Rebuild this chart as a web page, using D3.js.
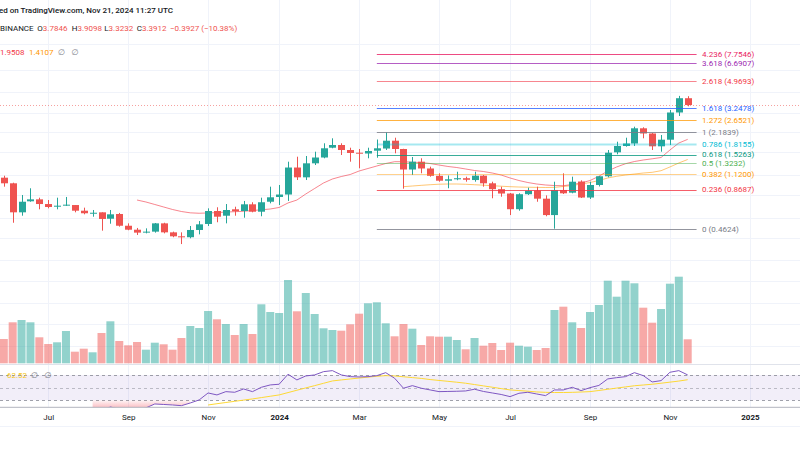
<!DOCTYPE html>
<html><head><meta charset="utf-8">
<script src="https://cdn.jsdelivr.net/npm/d3@7"></script>
<style>
body{margin:0;background:#fff}
svg{display:block}
text{font-family:Roboto,"DejaVu Sans",sans-serif}
</style>
</head><body>
<svg id="c" width="800" height="450"></svg>
<script>
// ---------- DATA (weekly candles, BINANCE) ----------
const weekStart = "2023-05-29";
const opens  = [1.052,0.961,0.602,0.719,0.742,0.688,0.659,0.674,0.677,0.618,
                0.593,0.602,0.543,0.586,0.485,0.455,0.436,0.441,0.504,0.436,
                0.409,0.403,0.453,0.499,0.615,0.570,0.632,0.615,0.685,0.608,
                0.714,0.771,0.802,1.239,1.058,1.326,1.456,1.705,1.781,1.643,
                1.573,1.553,1.625,1.683,1.909,1.670,1.200,1.361,1.220,1.084,
                1.002,1.025,1.043,1.013,1.086,0.961,0.874,0.815,0.633,0.806,
                0.856,0.750,0.576,0.863,0.826,0.989,0.764,0.935,1.076,1.583,
                1.753,1.825,2.331,2.144,1.744,1.940,3.007,3.7846];
const highs  = [1.086,0.970,0.796,0.887,0.762,0.734,0.762,0.771,0.677,0.649,
                0.625,0.602,0.625,0.596,0.504,0.468,0.465,0.507,0.509,0.441,
                0.436,0.483,0.523,0.642,0.653,0.688,0.659,0.723,0.708,0.762,
                0.910,0.935,1.361,1.475,1.492,1.599,1.831,1.984,1.831,1.705,
                1.670,1.705,1.946,2.1839,2.003,1.676,1.468,1.438,1.256,1.129,
                1.090,1.158,1.069,1.158,1.098,0.986,0.910,0.822,0.818,0.895,
                0.910,0.791,0.986,1.129,1.069,1.008,0.986,1.081,1.643,1.878,
                2.003,2.392,2.369,2.160,2.092,3.130,3.930,3.9098];
const lows   = [0.910,0.509,0.570,0.714,0.632,0.642,0.632,0.667,0.602,0.583,
                0.561,0.448,0.501,0.478,0.451,0.418,0.429,0.434,0.429,0.403,
                0.361,0.396,0.422,0.483,0.513,0.504,0.570,0.552,0.602,0.565,
                0.696,0.677,0.723,1.013,1.013,1.290,1.438,1.689,1.516,1.361,
                1.224,1.438,1.451,1.643,1.558,0.881,1.098,1.129,1.069,0.986,
                0.887,1.010,0.986,0.986,0.910,0.755,0.774,0.576,0.618,0.796,
                0.714,0.565,0.4624,0.809,0.818,0.758,0.746,0.913,1.058,1.533,
                1.733,1.753,1.984,1.643,1.599,1.781,2.842,3.3232];
const closes = [0.961,0.602,0.714,0.742,0.688,0.656,0.670,0.681,0.618,0.593,
                0.598,0.541,0.583,0.485,0.455,0.434,0.441,0.504,0.436,0.409,
                0.405,0.453,0.496,0.615,0.561,0.625,0.612,0.685,0.608,0.708,
                0.767,0.802,1.239,1.058,1.326,1.456,1.689,1.781,1.643,1.566,
                1.553,1.617,1.689,1.909,1.670,1.200,1.361,1.220,1.084,1.002,
                1.025,1.043,1.017,1.086,0.961,0.874,0.815,0.633,0.806,0.852,
                0.750,0.576,0.863,0.818,0.986,0.764,0.935,1.076,1.573,1.753,
                1.825,2.331,2.144,1.744,1.940,3.007,3.7846,3.3912];
// volume, millions
const volumes = [24.3,41,43.3,41,26,19.3,21,32.3,11.6,14.6,
                 11,30.3,42,22.3,18,21.3,13.6,20.6,19,13.6,
                 25.3,37.3,35.3,52.3,44,39.3,28.3,39.3,29.3,59,
                 51.3,50.3,83.3,52,70.3,49.3,35,33.3,32.6,39,
                 49.6,60,61,40,27,39.3,34.6,18.3,27,26.6,
                 26.6,23.3,14,25.3,17.6,20.3,13.3,20.6,17.6,16.6,
                 13.3,15.3,53.3,56.6,41,35.3,51.3,58.3,82.6,66.6,
                 82.6,80,55.6,40.6,54.3,79.6,86.6,24];
// EMA 20 (starts at candle 15)
const ema20Start = 15;
const ema20 = [0.734,0.711,0.683,0.656,0.630,0.610,0.597,0.593,0.596,0.599,
               0.605,0.608,0.612,0.620,0.627,0.635,0.651,0.700,0.734,0.809,
               0.884,0.966,1.030,1.072,1.107,1.171,1.220,1.270,1.322,1.361,
               1.361,1.348,1.344,1.322,1.290,1.260,1.239,1.210,1.181,1.162,
               1.134,1.098,1.047,1.005,0.973,0.950,0.935,0.927,0.924,0.943,
               0.966,1.005,1.076,1.171,1.250,1.318,1.365,1.399,1.426,1.456,
               1.643,1.839,1.9508];
// EMA 50 (starts at candle 45)
const ema50Start = 45;
const ema50 = [0.910,0.920,0.930,0.939,0.947,0.950,0.950,0.946,0.939,0.932,
               0.924,0.917,0.910,0.905,0.902,0.900,0.898,0.900,0.913,0.927,
               0.950,0.973,1.005,1.047,1.076,1.098,1.116,1.134,1.147,1.177,
               1.250,1.333,1.4107];
// RSI 14 (starts at candle 10)
const rsiStart = 10;
const rsi = [14,13,19.5,16,15,14,18,24.2,23.4,22.6,
             21.5,25.8,30.6,41.6,38.5,43.7,42.7,47.9,43.7,50.6,
             54.3,55.4,71.2,62.2,68.5,70.1,75.3,76.9,70.1,67.4,
             66.9,67.4,69,73.7,64.9,49.1,53.2,49.1,46.4,43.7,
             44,44.3,44.8,47.5,44,41.6,39.2,35.8,41.1,42.7,
             40,37.4,46.4,46.4,50.6,45.3,50,53.5,63.8,65.8,
             67.4,73.7,69,59,61.1,74.3,76.9,70.1];
// RSI-based MA (starts at candle 23)
const rsiMaStart = 23;
const rsiMa = [22.6,24.6,26.5,28.4,30.3,32.2,34.3,36.4,38.5,42.2,
               45.9,49.6,53.2,56.9,60.6,62.2,63.7,65.2,66.6,68,
               69,68.5,67.2,65.9,64.6,62.8,61.4,60,58.6,57,
               54.9,52.8,50.7,48.5,46.4,45.4,44.4,43.2,42.6,42.3,
               42.3,42.6,43.1,43.7,45.5,47.4,49.3,51.2,53,54.2,
               55.4,57,58.7,60.4,62.52];
const rsiMaLabel = "62.52";
// Fibonacci retracement levels
const fibStartCandle = 42, fibEndCandle = 78;
const fibLevels = ["0","0.236","0.382","0.5","0.618","0.786","1","1.272","1.618","2.618","3.618","4.236"];
const fibPrices = [0.4624,0.8687,1.1200,1.3232,1.5263,1.8155,2.1839,2.6521,3.2478,4.9693,6.6907,7.7546];
const fibColors = ["#787b86","#f23645","#ff9800","#4caf50","#089981","#00bcd4","#787b86","#ff9800","#2962ff","#f23645","#9c27b0","#e91e63"];
const fibLineOpacity = [0.8,0.8,0.45,0.5,0.8,0.35,0.8,0.75,0.8,0.6,0.75,0.8];
const fibLineWidth = [1,1,1,1,1,2,1,1,1,1,1,1];
// header texts
const headerLine1 = "ed on TradingView.com, Nov 21, 2024 11:27 UTC";
const symbolLabel = "BINANCE";
const changeLabel = "−0.3927 (−10.38%)";
// axis labels
const priceGridTicks = [0.07,0.10,0.14,0.20,0.28,0.40,0.55,0.80,1.10,1.60,2.20,3.00,4.20,6.00,9.00];
const monthTickDates = ["2023-07-03","2023-09-04","2023-11-06","2024-01-01","2024-03-04","2024-05-06","2024-07-01","2024-09-02","2024-11-04","2025-01-06"];
const monthTickLabels = ["Jul","Sep","Nov","2024","Mar","May","Jul","Sep","Nov","2025"];
const rsiLevels = [70,50,30];

// ---------- SETUP ----------
const W = 800, H = 450;
const UP = "#26a69a", DOWN = "#ef5350";
const svg = d3.select("#c");
const parse = d3.utcParse("%Y-%m-%d");
const first = parse(weekStart);
const n = opens.length;
const dates = d3.utcMonday.range(first, d3.utcMonday.offset(first, n));
const candles = dates.map((d,i)=>({d, o:opens[i], h:highs[i], l:lows[i], c:closes[i], v:volumes[i]}));

const x = d3.scaleUtc().domain([dates[0], dates[n-1]]).range([3.8, 687.7]);
const y = d3.scaleLog().domain([0.4624, 7.7546]).range([228.7, 53.7]);
const yv = d3.scaleLinear().domain([0, 100]).range([363.3, 263.3]);
const yr = d3.scaleLinear().domain([30, 70]).range([400.3, 375]);

const mainBottom = 364, rsiTop = 364, rsiBottom = 407.3;
const defs = svg.append("defs");
defs.append("clipPath").attr("id","mainClip").append("rect").attr("x",0).attr("y",0).attr("width",W).attr("height",mainBottom);
defs.append("clipPath").attr("id","rsiClip").append("rect").attr("x",0).attr("y",rsiTop).attr("width",W).attr("height",rsiBottom-rsiTop);
const grad = defs.append("linearGradient").attr("id","osGrad").attr("x1",0).attr("x2",0).attr("y1",0).attr("y2",1);
grad.append("stop").attr("offset","0%").attr("stop-color","#f23645").attr("stop-opacity",0.05);
grad.append("stop").attr("offset","100%").attr("stop-color","#f23645").attr("stop-opacity",0.45);

const monthDates = monthTickDates.map(parse);

// ---------- GRID ----------
const grid = svg.append("g");
grid.append("g").attr("clip-path","url(#mainClip)").selectAll("line").data(priceGridTicks).join("line")
  .attr("x1",0).attr("x2",W).attr("y1",d=>Math.round(y(d))+0.5).attr("y2",d=>Math.round(y(d))+0.5)
  .attr("stroke","#f0f3fa").attr("stroke-width",1);
grid.selectAll("line.v").data(monthDates).join("line").attr("class","v")
  .attr("x1",d=>Math.round(x(d))+0.5).attr("x2",d=>Math.round(x(d))+0.5).attr("y1",0).attr("y2",rsiBottom)
  .attr("stroke","#f0f3fa").attr("stroke-width",1);

// ---------- MAIN PANE ----------
const main = svg.append("g").attr("clip-path","url(#mainClip)");

// volume
main.append("g").selectAll("rect").data(candles).join("rect")
  .attr("x",d=>x(d.d)-4).attr("width",8)
  .attr("y",d=>yv(d.v)).attr("height",d=>yv(0)-yv(d.v))
  .attr("fill",d=>d.c>=d.o?UP:DOWN).attr("fill-opacity",0.5);

// fib levels
const fx0 = x(d3.utcMonday.offset(first, fibStartCandle));
const fx1 = x(d3.utcMonday.offset(first, fibEndCandle));
const fib = fibLevels.map((lv,i)=>({lv, p: fibPrices[i], col: fibColors[i], op: fibLineOpacity[i], w: fibLineWidth[i]}));
const fibG = svg.append("g");
fibG.selectAll("line").data(fib).join("line")
  .attr("x1",fx0).attr("x2",fx1).attr("y1",d=>Math.round(y(d.p))+0.5).attr("y2",d=>Math.round(y(d.p))+0.5)
  .attr("stroke",d=>d.col).attr("stroke-opacity",d=>d.op).attr("stroke-width",d=>d.w);
fibG.selectAll("text").data(fib).join("text")
  .attr("x",fx1+5.5).attr("y",d=>y(d.p)).attr("dy","0.35em")
  .attr("font-size",8).attr("fill",d=>d.col)
  .text(d=>`${d.lv} (${d.p.toFixed(4)})`);

// EMA lines
const line = d3.line().x(d=>x(d.d)).y(d=>y(d.v));
const ema20Pts = ema20.map((v,i)=>({d:dates[ema20Start+i], v}));
const ema50Pts = ema50.map((v,i)=>({d:dates[ema50Start+i], v}));
main.append("path").datum(ema50Pts).attr("d",line).attr("fill","none").attr("stroke","#ff9800").attr("stroke-opacity",0.55).attr("stroke-width",1);
main.append("path").datum(ema20Pts).attr("d",line).attr("fill","none").attr("stroke","#f23645").attr("stroke-opacity",0.6).attr("stroke-width",1);

// candles
const cg = main.append("g");
cg.selectAll("line").data(candles).join("line")
  .attr("x1",d=>Math.round(x(d.d))+0.5).attr("x2",d=>Math.round(x(d.d))+0.5)
  .attr("y1",d=>y(d.h)).attr("y2",d=>y(d.l))
  .attr("stroke",d=>d.c>=d.o?UP:DOWN).attr("stroke-width",1);
cg.selectAll("rect").data(candles).join("rect")
  .attr("x",d=>Math.round(x(d.d))-3).attr("width",7)
  .attr("y",d=>y(Math.max(d.o,d.c)))
  .attr("height",d=>Math.max(1, y(Math.min(d.o,d.c))-y(Math.max(d.o,d.c))))
  .attr("fill",d=>d.c>=d.o?UP:DOWN);

// current price line
const lastClose = closes[n-1];
main.append("line").attr("x1",0).attr("x2",W).attr("y1",Math.round(y(lastClose))+0.5).attr("y2",Math.round(y(lastClose))+0.5)
  .attr("stroke","#ef5350").attr("stroke-opacity",0.55).attr("stroke-dasharray","1,2");

// ---------- HEADER ----------
const hdr = svg.append("g").attr("font-size",8);
hdr.append("text").attr("x",-1).attr("y",13).attr("fill","#131722").attr("font-weight",500).text(headerLine1);
const ohlc = [["O",opens[n-1],37.3],["H",highs[n-1],71.7],["L",lows[n-1],104.3],["C",lastClose,136.7]];
hdr.append("text").attr("x",0).attr("y",31).attr("fill","#131722").text(symbolLabel);
ohlc.forEach(([k,v,px])=>{
  const t = hdr.append("text").attr("x",px).attr("y",31);
  t.append("tspan").attr("fill","#131722").text(k);
  t.append("tspan").attr("fill",DOWN).text(v.toFixed(4));
});
hdr.append("text").attr("x",170).attr("y",31).attr("fill",DOWN).text(changeLabel);
hdr.append("text").attr("x",0).attr("y",54.5).attr("fill","#f23645").text(ema20[ema20.length-1].toFixed(4));
hdr.append("text").attr("x",29).attr("y",54.5).attr("fill","#ff9800").text(ema50[ema50.length-1].toFixed(4));
hdr.append("text").attr("x",58).attr("y",54.5).attr("fill","#787b86").text("∅");
hdr.append("text").attr("x",71.5).attr("y",54.5).attr("fill","#787b86").text("∅");

// pane separator
svg.append("line").attr("x1",0).attr("x2",W).attr("y1",rsiTop+0.5).attr("y2",rsiTop+0.5).attr("stroke","#e0e3eb");

// ---------- RSI PANE ----------
const rp = svg.append("g").attr("clip-path","url(#rsiClip)");
rp.append("rect").attr("x",0).attr("width",W).attr("y",yr(70)).attr("height",yr(30)-yr(70)).attr("fill","#7e57c2").attr("fill-opacity",0.1);
rp.selectAll("line.lv").data(rsiLevels).join("line").attr("class","lv")
  .attr("x1",0).attr("x2",W).attr("y1",d=>Math.round(yr(d))+0.5).attr("y2",d=>Math.round(yr(d))+0.5)
  .attr("stroke","#787b86").attr("stroke-opacity",d=>d===50?0.45:0.7).attr("stroke-dasharray","3,3");
const rsiPts = rsi.map((v,i)=>({d:dates[rsiStart+i], v}));
const rsiMaPts = rsiMa.map((v,i)=>({d:dates[rsiMaStart+i], v}));
const osArea = d3.area().x(d=>x(d.d)).y0(yr(30)).y1(d=>yr(Math.min(d.v,30)));
rp.append("path").datum(rsiPts.filter((d,i)=>i<=11)).attr("d",osArea).attr("fill","url(#osGrad)");
const rline = d3.line().x(d=>x(d.d)).y(d=>yr(d.v));
rp.append("path").datum(rsiMaPts).attr("d",rline).attr("fill","none").attr("stroke","#fdd835").attr("stroke-width",1);
rp.append("path").datum(rsiPts).attr("d",rline).attr("fill","none").attr("stroke","#7e57c2").attr("stroke-width",1);
svg.append("text").attr("x",7).attr("y",378).attr("font-size",8).attr("fill","#f5c518").text(rsiMaLabel);
svg.append("text").attr("x",31).attr("y",378).attr("font-size",8).attr("fill","#787b86").text("∅");
svg.append("text").attr("x",44.5).attr("y",378).attr("font-size",8).attr("fill","#787b86").text("∅");

// ---------- TIME AXIS ----------
svg.append("line").attr("x1",0).attr("x2",W).attr("y1",rsiBottom).attr("y2",rsiBottom).attr("stroke","#b2b5be");
const ax = svg.append("g").attr("transform",`translate(0,${rsiBottom})`)
  .call(d3.axisBottom(x).tickValues(monthDates).tickFormat((d,i)=>monthTickLabels[i]).tickSize(0).tickPadding(7));
ax.select(".domain").remove();
ax.selectAll("text").attr("font-size",8).attr("fill","#131722")
  .attr("font-family","Roboto,'DejaVu Sans',sans-serif")
  .attr("font-weight",(d,i)=>/^\d{4}$/.test(monthTickLabels[i])?700:400);
svg.append("line").attr("x1",0).attr("x2",W).attr("y1",426.5).attr("y2",426.5).attr("stroke","#f0f3fa");
</script>
</body></html>
